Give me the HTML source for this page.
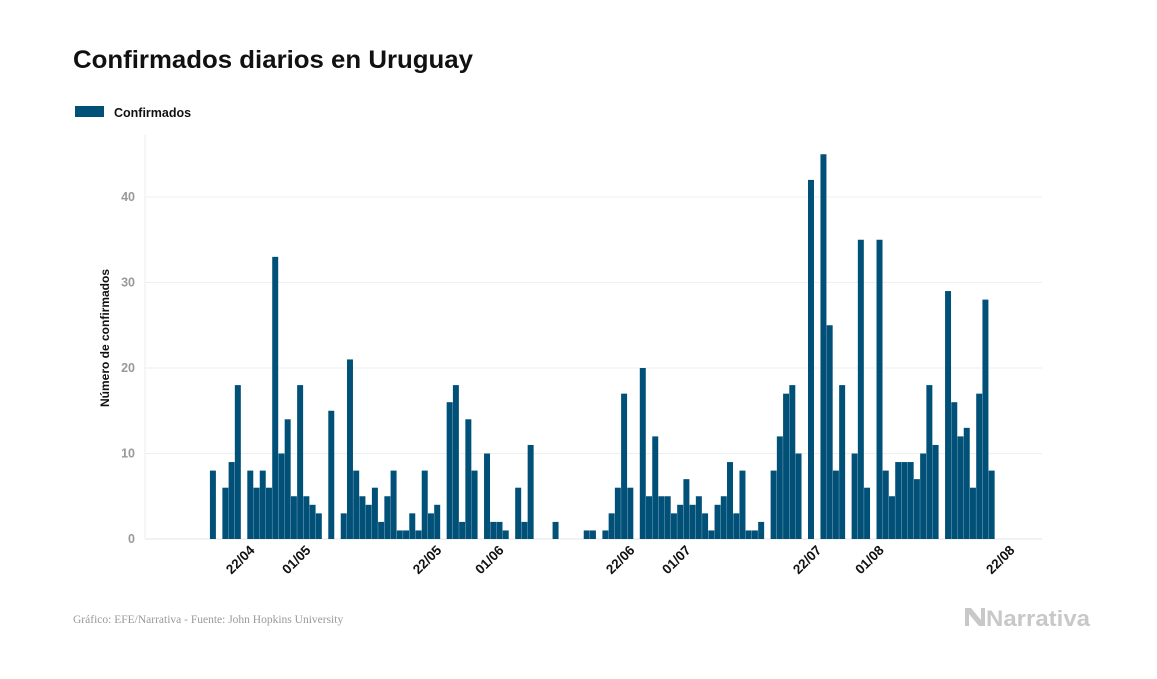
<!DOCTYPE html>
<html><head><meta charset="utf-8"><style>
body{margin:0;background:#fff;width:1157px;height:674px;overflow:hidden;font-family:"Liberation Sans",sans-serif}
</style></head><body>
<svg width="1157" height="674" xmlns="http://www.w3.org/2000/svg">
<text x="73" y="68" font-size="25" font-weight="bold" fill="#111" textLength="400" lengthAdjust="spacingAndGlyphs">Confirmados diarios en Uruguay</text>
<rect x="75" y="106" width="29" height="11" fill="#005078"/>
<text x="114" y="117" font-size="12.5" font-weight="bold" fill="#111">Confirmados</text>
<text transform="translate(109,338) rotate(-90)" text-anchor="middle" font-size="12" font-weight="bold" fill="#111">Número de confirmados</text>
<g id="grid"></g><g id="bars"></g><g id="xlabels"></g>
<line x1="145" y1="135" x2="145" y2="539" stroke="#eee"/>
<text x="73" y="623" font-size="11.5" fill="#999" font-family="Liberation Serif,serif">Gráfico: EFE/Narrativa - Fuente: John Hopkins University</text>
<g>
<path d="M965 608 L971 608 L981 620 L981 608 L985 608 L985 626 L979 626 L969 614 L969 626 L965 626 Z" fill="#c8c8c8"/>
<text x="986" y="626" font-size="22" font-weight="bold" fill="#c8c8c8" textLength="104" lengthAdjust="spacingAndGlyphs">Narrativa</text>
</g>
</svg>
<script>
const yTicks=[0,10,20,30,40];
const values=[0,0,0,0,8,0,6,9,18,0,8,6,8,6,33,10,14,5,18,5,4,3,0,15,0,3,21,8,5,4,6,2,5,8,1,1,3,1,8,3,4,0,16,18,
2,14,8,0,10,2,2,1,0,6,2,11,0,0,0,2,0,0,0,0,1,1,0,1,3,6,17,6,0,20,5,12,5,5,3,4,7,4,5,3,1,4,5,9,3,8,1,1,2,
0,8,12,17,18,10,0,42,0,45,25,8,18,0,10,35,6,0,35,8,5,9,9,9,7,10,18,11,0,29,16,12,13,6,17,28,8,0];
const xLabels=["22/04","01/05","22/05","01/06","22/06","01/07","22/07","01/08","22/08"];
const xLabelIdx=[10,19,40,50,71,80,101,111,132];
const NS="http://www.w3.org/2000/svg";
const x0=185,step=6.23,y0=539,pxPer=8.55;
const xs=i=>x0+i*step, ys=v=>y0-v*pxPer;
const grid=document.getElementById('grid'),bars=document.getElementById('bars'),xl=document.getElementById('xlabels');
yTicks.forEach(t=>{
 const l=document.createElementNS(NS,'line');
 l.setAttribute('x1',145);l.setAttribute('x2',1042);l.setAttribute('y1',ys(t));l.setAttribute('y2',ys(t));
 l.setAttribute('stroke',t===0?'#e4e4e4':'#efefef');
 
 
 grid.appendChild(l);
 const tx=document.createElementNS(NS,'text');
 tx.setAttribute('x',135);tx.setAttribute('y',ys(t)+4);tx.setAttribute('text-anchor','end');
 tx.setAttribute('font-size','12.5');tx.setAttribute('font-weight','bold');tx.setAttribute('fill','#999');tx.textContent=t;
 
 
 grid.appendChild(tx);
});
values.forEach((v,i)=>{
 if(v<=0)return;
 const r=document.createElementNS(NS,'rect');
 r.setAttribute('x',xs(i));r.setAttribute('width',step-0.25);
 r.setAttribute('y',ys(v));r.setAttribute('height',v*pxPer);r.setAttribute('fill','#005078');
 
 
 bars.appendChild(r);
});
xLabels.forEach((s,k)=>{
 const cx=xs(xLabelIdx[k])+step/2;
 const t=document.createElementNS(NS,'text');
 t.setAttribute('transform','translate('+(cx+5)+',551) rotate(-45)');
 t.setAttribute('text-anchor','end');t.setAttribute('font-size','13.5');t.setAttribute('font-weight','bold');t.setAttribute('fill','#111');
 t.textContent=s;
 
 
 xl.appendChild(t);
});
</script>
</body></html>
